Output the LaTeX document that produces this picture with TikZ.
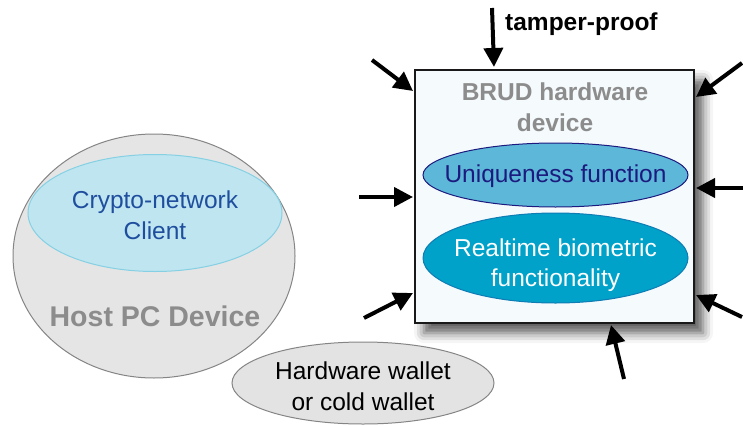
\documentclass[tikz,border=0pt]{standalone}
\usepackage{fontspec}
\setmainfont{Liberation Sans}
\usetikzlibrary{shapes.geometric,arrows.meta,shadows.blur}

\definecolor{hostfill}{HTML}{E5E5E5}
\definecolor{hostline}{HTML}{858585}
\definecolor{greytext}{HTML}{8C8C8C}
\definecolor{clientfill}{HTML}{BEE5F0}
\definecolor{clientline}{HTML}{86D0E4}
\definecolor{clienttext}{HTML}{1F4E9E}
\definecolor{boxfill}{HTML}{F5FAFD}
\definecolor{uniqfill}{HTML}{5CB7D8}
\definecolor{uniqline}{HTML}{1C1A7E}
\definecolor{bioline}{HTML}{0F7DB4}
\definecolor{biofill}{HTML}{00A2C9}
\definecolor{walletfill}{HTML}{E3E3E3}

\tikzset{
  txt/.style={font=\fontsize{24.5}{30.5}\selectfont, align=center, inner sep=0pt},
  oval/.style={ellipse, inner sep=0pt, line width=1pt},
  attack/.style={line width=4pt, -{Triangle[length=19pt,width=19pt]}},
}

\begin{document}
\begin{tikzpicture}[x=1pt, y=-1pt]
\useasboundingbox (0,0) rectangle (743,425);

% host computer with its network client
\node[oval, draw=hostline, fill=hostfill, minimum width=282pt, minimum height=244pt] (host) at (154,256) {};
\node[oval, draw=clientline, fill=clientfill, minimum width=254pt, minimum height=117pt] (client) at (155,213) {};
\node[txt, text=clienttext] (clienttxt) at (155,215) {Crypto-network\\Client};
\node[txt, font=\fontsize{28.5}{32}\selectfont\bfseries, text=greytext] (hosttxt) at (155,316) {Host PC Device};

% hardware / cold wallet
\node[oval, draw=hostline, fill=walletfill, minimum width=262pt, minimum height=82pt] (wallet) at (363,383) {};
\node[txt] (wallettxt) at (363,386) {Hardware wallet\\or cold wallet};

% tamper-proof BRUD device
\node[draw=black!90, line width=1.5pt, fill=boxfill, minimum width=279pt, minimum height=253pt, inner sep=0pt,
      blur shadow={shadow xshift=9pt, shadow yshift=-10pt, shadow blur radius=10pt, shadow opacity=65}] (brud) at (554.5,196.5) {};
\node[txt, font=\fontsize{24.5}{30.5}\selectfont\bfseries, text=greytext] (brudtxt) at (555,107) {BRUD hardware\\device};
\node[oval, draw=uniqline, fill=uniqfill, minimum width=265pt, minimum height=64pt] (uniq) at (555.5,175) {};
\node[txt, text=uniqline] (uniqtxt) at (555.5,176) {Uniqueness function};
\node[oval, draw=bioline, fill=biofill, minimum width=265pt, minimum height=90pt] (bio) at (555.5,258) {};
\node[txt, text=white] (biotxt) at (555.5,265) {Realtime biometric\\functionality};

% attack directions
\coordinate (s1) at (492,8);    \coordinate (t1) at (494,67);
\coordinate (s2) at (372,60);   \coordinate (t2) at (413,91);
\coordinate (s3) at (742,63);   \coordinate (t3) at (696,97);
\coordinate (s4) at (359,197);  \coordinate (t4) at (413,197);
\coordinate (s5) at (743,188);  \coordinate (t5) at (696,188);
\coordinate (s6) at (364,318);  \coordinate (t6) at (413,293);
\coordinate (s7) at (742,317);  \coordinate (t7) at (696,295);
\coordinate (s8) at (624,379);  \coordinate (t8) at (611,325);
\foreach \i in {1,...,8} \draw[attack] (s\i) -- (t\i);

\node[font=\fontsize{24.5}{30}\selectfont\bfseries, anchor=base west, inner sep=0pt] (tamper) at (505,31) {tamper-proof};
\end{tikzpicture}
\end{document}
